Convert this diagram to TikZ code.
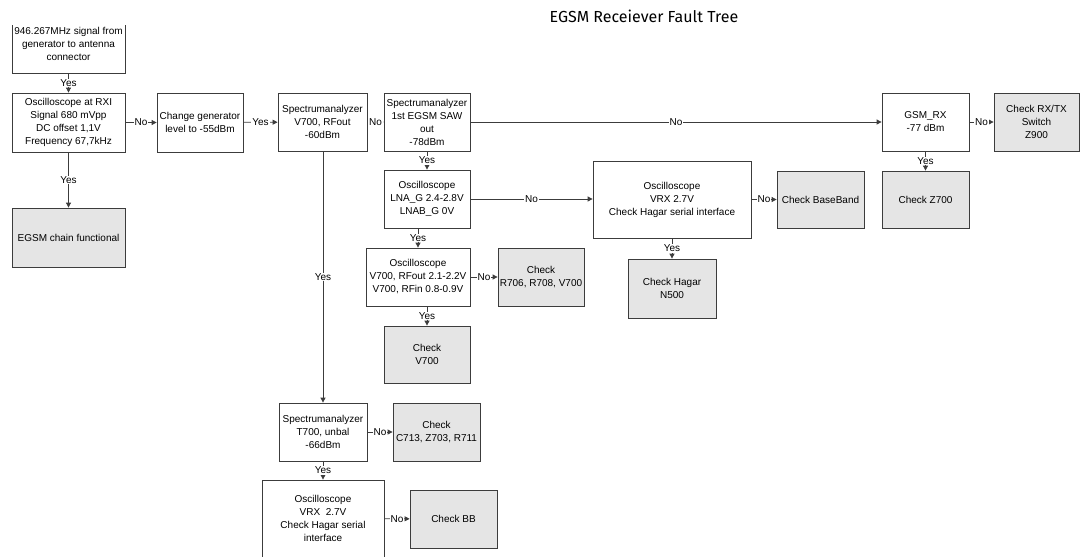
\documentclass[tikz,border=0pt]{standalone}
\usepackage{fontspec}
\setmainfont{Liberation Sans}
\newfontfamily\titlefont{Fira Sans}
\usetikzlibrary{arrows.meta}
\definecolor{boxgray}{RGB}{229,229,229}
\definecolor{linegray}{RGB}{60,60,60}
\tikzset{
	box/.style={draw=linegray, line width=0.8pt, align=center, inner sep=0pt, font=\fontsize{10}{13}\selectfont},
	check/.style={box, fill=boxgray},
	lbl/.style={fill=white, inner sep=1pt, font=\fontsize{10}{12}\selectfont},
	arr/.style={draw=linegray, line width=0.8pt, -{Triangle[length=5pt,width=5pt]}},
}
\begin{document}
\begin{tikzpicture}[x=1pt,y=-1pt]
		\useasboundingbox (0,0) rectangle (1080,558);
		\node[font=\titlefont\fontsize{16}{18}\selectfont] (title) at (644,16){EGSM Receiever Fault Tree};
		\begin{scope}
			\clip (0,25) rectangle (1080,556.5);
			% left column
			\node[box, minimum width=113, minimum height=59] (start) at (68.5,43.5){946.267MHz signal from\\generator to antenna\\connector};
			\node[box, minimum width=113, minimum height=59] (rxi) at (68.5,122.5){Oscilloscope at RXI\\Signal 680 mVpp\\DC offset 1,1V\\Frequency 67,7kHz};
			\node[check, minimum width=113, minimum height=59] (chain) at (68.5,237.5){EGSM chain functional};
			\node[box, minimum width=86, minimum height=59] (gen) at (200,122.5){Change generator\\level to -55dBm};
			% top row
			\node[box, minimum width=89, minimum height=58] (rfout) at (322.5,122){Spectrumanalyzer\\V700, RFout\\-60dBm};
			\node[box, minimum width=86, minimum height=58] (saw) at (427,122){Spectrumanalyzer\\1st EGSM SAW\\out\\-78dBm};
			\node[box, minimum width=87, minimum height=58] (gsmrx) at (925.5,122){GSM\_RX\\-77 dBm};
			\node[check, minimum width=85, minimum height=58] (switch) at (1036.5,122){Check RX/TX\\Switch\\Z900};
			% second row
			\node[box, minimum width=86, minimum height=58] (lna) at (427,199){Oscilloscope\\LNA\_G 2.4-2.8V\\LNAB\_G 0V};
			\node[box, minimum width=158, minimum height=77] (vrx) at (672,199.5){Oscilloscope\\VRX 2.7V\\Check Hagar serial interface};
			\node[check, minimum width=87, minimum height=57] (bband) at (820.5,199.5){Check BaseBand};
			\node[check, minimum width=87, minimum height=57] (zsev) at (925.5,199.5){Check Z700};
			\node[check, minimum width=88, minimum height=59] (hagar) at (672,288.5){Check Hagar\\N500};
			% V700 branch
			\node[box, minimum width=104, minimum height=58] (vbias) at (418,277){Oscilloscope\\V700, RFout 2.1-2.2V\\V700, RFin 0.8-0.9V};
			\node[check, minimum width=86, minimum height=58] (resist) at (541,277){Check\\R706, R708, V700};
			\node[check, minimum width=86, minimum height=57] (vcheck) at (427,354.5){Check\\V700};
			% T700 branch
			\node[box, minimum width=88, minimum height=58] (unbal) at (323,432){Spectrumanalyzer\\T700, unbal\\-66dBm};
			\node[check, minimum width=87, minimum height=58] (comps) at (436.5,432){Check\\C713, Z703, R711};
			\node[box, minimum width=122, minimum height=77] (vrxb) at (323,518.5){Oscilloscope\\VRX~~2.7V\\Check Hagar serial\\interface};
			\node[check, minimum width=87, minimum height=58] (bb) at (453.5,519){Check BB};
			\coordinate (more) at (323,575);
			% connectors
			\draw[arr] (start) to node[lbl]{Yes} (rxi);
			\draw[arr] (rxi) to node[lbl]{No} (gen);
			\draw[arr] (rxi) to node[lbl]{Yes} (chain);
			\draw[arr] (gen) to node[lbl]{Yes} (rfout);
			\draw[arr] (rfout) to node[lbl]{No} (saw);
			\draw[arr] (rfout.south -| unbal) to node[lbl]{Yes} (unbal);
			\draw[arr] (saw) to node[lbl]{No} (gsmrx);
			\draw[arr] (saw) to node[lbl]{Yes} (lna);
			\draw[arr] (gsmrx) to node[lbl]{No} (switch);
			\draw[arr] (gsmrx) to node[lbl]{Yes} (zsev);
			\draw[arr] (lna) to node[lbl]{No} (vrx.west |- lna);
			\draw[arr] (lna.south -| vbias) to node[lbl]{Yes} (vbias);
			\draw[arr] (vbias) to node[lbl]{No} (resist);
			\draw[arr] (vbias.south -| vcheck) to node[lbl]{Yes} (vcheck);
			\draw[arr] (vrx) to node[lbl]{No} (bband);
			\draw[arr] (vrx) to node[lbl]{Yes} (hagar);
			\draw[arr] (unbal) to node[lbl]{No} (comps);
			\draw[arr] (unbal) to node[lbl]{Yes} (vrxb);
			\draw[arr] (vrxb) to node[lbl]{No} (bb);
			\draw[arr] (vrxb) to (more);
		\end{scope}
\end{tikzpicture}
\end{document}
